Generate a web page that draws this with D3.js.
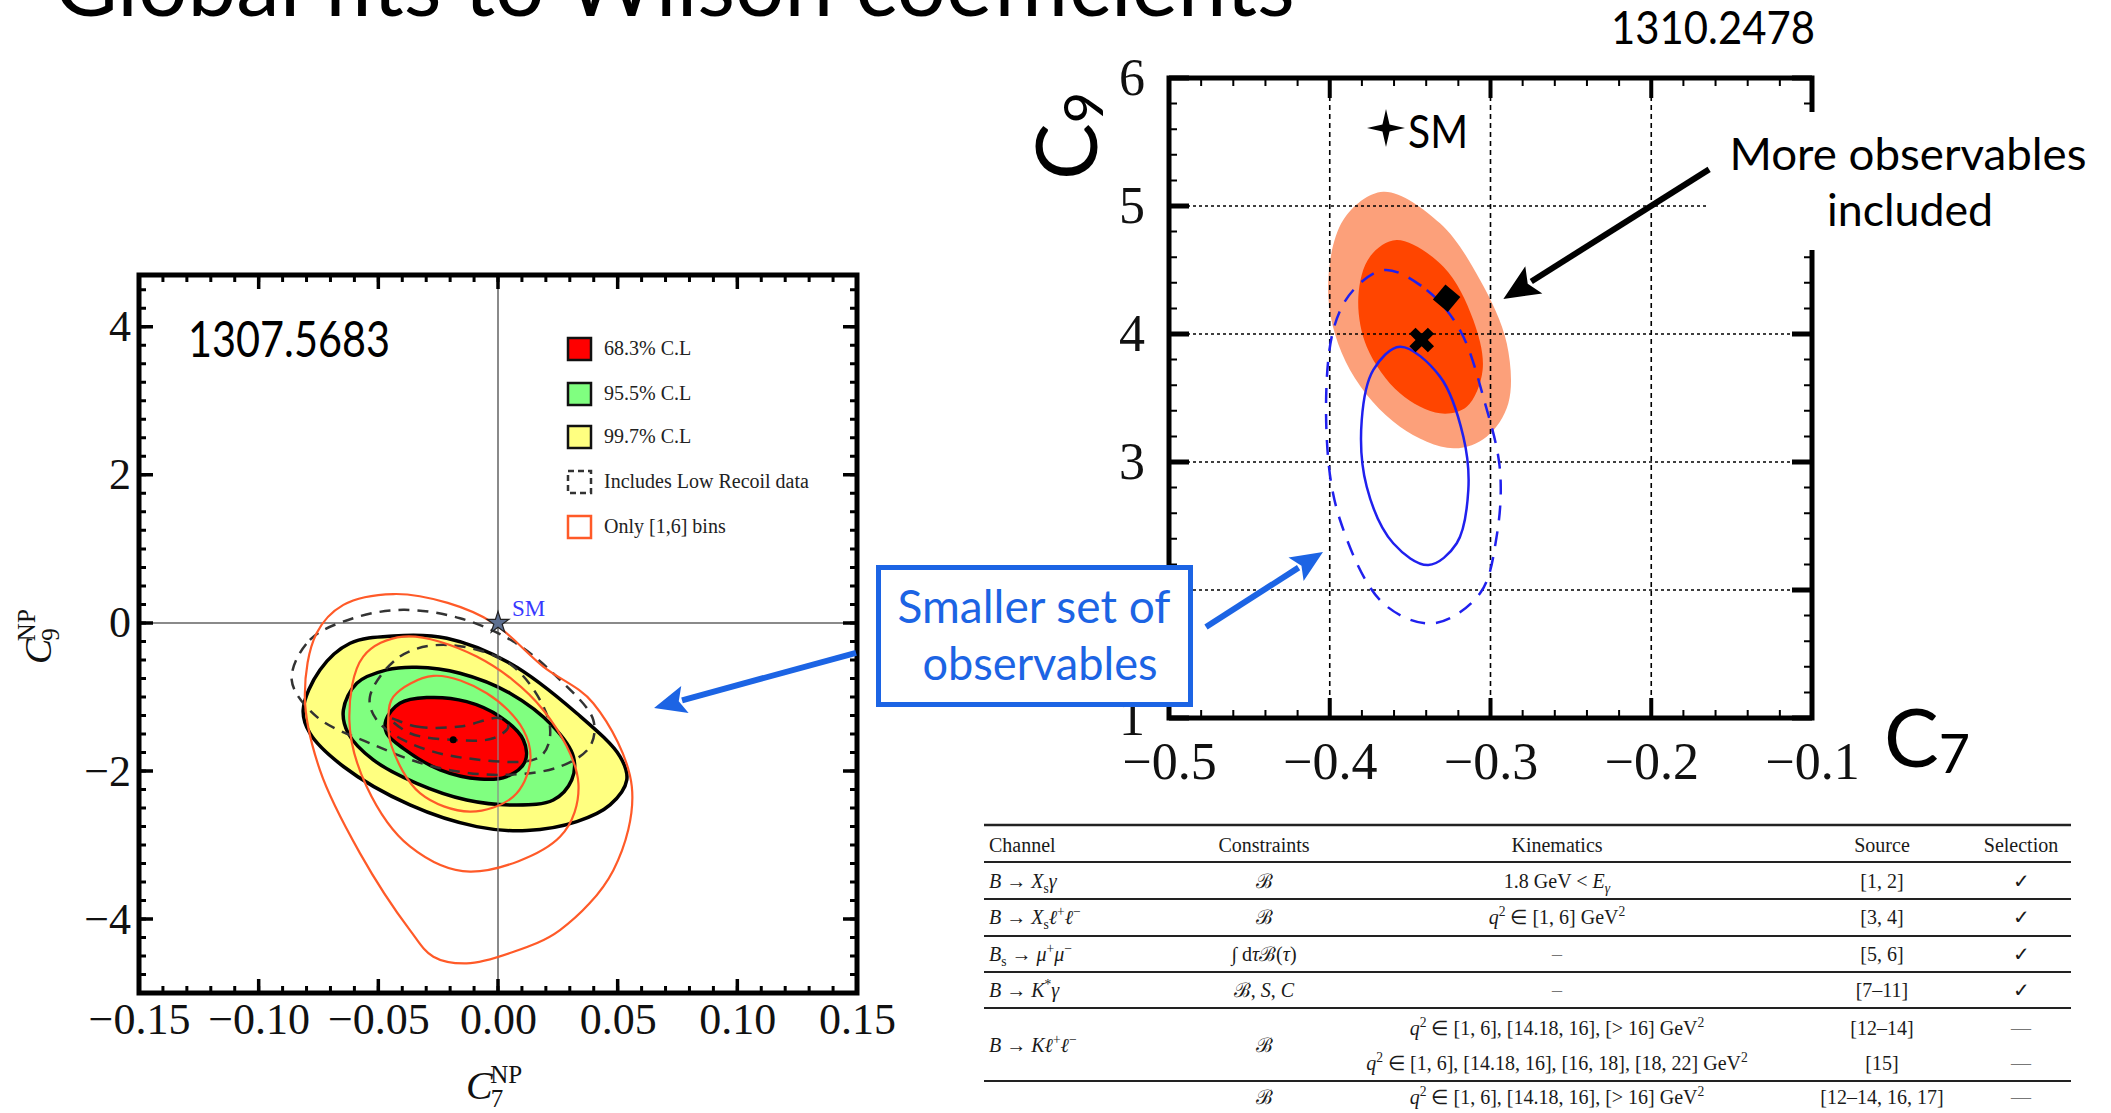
<!DOCTYPE html>
<html>
<head>
<meta charset="utf-8">
<title>Global fits to Wilson coefficients</title>
<script src="https://cdnjs.cloudflare.com/ajax/libs/d3/7.8.5/d3.min.js"></script>
<style>
  body { margin: 0; background: #fff; }
  svg { display: block; }
</style>
</head>
<body>
<svg id="slide" width="2111" height="1113"></svg>
<script>
'use strict';

// ---------- values ----------

// left plot (1307.5683): C7NP on x, C9NP on y
var leftXTicks = [-0.15, -0.10, -0.05, 0.00, 0.05, 0.10, 0.15];
var leftYTicks = [-4, -2, 0, 2, 4];
var leftLegend = ['68.3% C.L', '95.5% C.L', '99.7% C.L', 'Includes Low Recoil data', 'Only [1,6] bins'];
var leftSM = [0, 0];
var leftBestFit = [-0.0187, -1.58];

// filled contours (black border)
var cl997 = [[-0.0814,-1.176],[-0.0744,-0.635],[-0.0618,-0.275],[-0.0437,-0.176],[-0.0214,-0.207],[0.005,-0.545],
  [0.0329,-1.221],[0.051,-1.806],[0.0538,-2.122],[0.0468,-2.459],[0.0329,-2.685],[0.012,-2.806],[-0.0089,-2.752],
  [-0.0368,-2.459],[-0.0646,-1.94],[-0.0786,-1.49]];
var cl955 = [[-0.0646,-1.176],[-0.059,-0.815],[-0.0465,-0.635],[-0.034,-0.599],[-0.0159,-0.68],[0.005,-0.95],
  [0.0231,-1.401],[0.0315,-1.806],[0.0308,-2.122],[0.0231,-2.392],[0.0064,-2.459],[-0.0131,-2.392],[-0.034,-2.167],
  [-0.0521,-1.851],[-0.0626,-1.491]];
var cl683 = [[-0.0468,-1.311],[-0.041,-1.085],[-0.0298,-1.009],[-0.0131,-1.063],[0.0008,-1.266],[0.0106,-1.581],
  [0.0113,-1.874],[0.0036,-2.077],[-0.0075,-2.11],[-0.0242,-1.986],[-0.0396,-1.694],[-0.0465,-1.491]];
// low recoil (dashed)
var lowRecoil997 = [[-0.0862,-0.77],[-0.0786,-0.23],[-0.0605,0.063],[-0.0396,0.176],[-0.0159,0.063],[0.0064,-0.252],
  [0.0259,-0.77],[0.0398,-1.311],[0.0384,-1.671],[0.0259,-1.941],[0.0008,-2.054],[-0.027,-1.941],[-0.0535,-1.626],
  [-0.0758,-1.266]];
var lowRecoil955 = [[-0.0535,-0.996],[-0.041,-0.455],[-0.0214,-0.297],[0.0064,-0.59],[0.0217,-1.401],[0.0176,-1.806],
  [-0.0131,-1.829],[-0.0368,-1.626],[-0.0507,-1.311]];
var lowRecoil683 = [[-0.0451,-1.288],[-0.034,-1.401],[-0.0159,-1.401],[0.0008,-1.288],[0.0043,-1.401],[-0.002,-1.559],
  [-0.0187,-1.581],[-0.0368,-1.491]];
// only [1,6] bins (orange)
var bins997 = [[-0.0646,0.243],[-0.0437,0.39],[-0.021,0.27],[-0.002,0.0],[0.0189,-0.59],[0.0398,-1.085],[0.0559,-2.21],
  [0.0482,-3.34],[0.0259,-4.15],[0.005,-4.46],[-0.0131,-4.60],[-0.027,-4.51],[-0.0368,-4.15],[-0.0577,-3.11],
  [-0.0744,-1.99],[-0.0807,-0.996],[-0.0758,-0.14]];
var bins955 = [[-0.0396,-0.185],[-0.0089,-0.455],[0.0189,-1.176],[0.0336,-2.17],[0.0259,-2.89],[-0.0117,-3.36],
  [-0.0368,-3.02],[-0.0549,-2.21],[-0.0621,-1.31],[-0.0563,-0.455]];
var bins683 = [[-0.0437,-0.996],[-0.027,-0.716],[-0.0047,-0.95],[0.0106,-1.446],[0.0134,-1.896],[0.0064,-2.347],
  [-0.0117,-2.55],[-0.0326,-2.30],[-0.0444,-1.67],[-0.0458,-1.27]];

// right plot (1310.2478): C7 on x, C9 on y
var rightXTicks = [-0.5, -0.4, -0.3, -0.2, -0.1];
var rightYTicks = [1, 2, 3, 4, 5, 6];
var rightYLabels = [1, 3, 4, 5, 6];   // the "2" sits under the blue box
var right2sigma = [[-0.3667,5.112],[-0.3314,4.865],[-0.3065,4.422],[-0.2899,3.927],[-0.2889,3.459],[-0.3024,3.198],
  [-0.3231,3.107],[-0.3563,3.276],[-0.3874,3.719],[-0.4009,4.292],[-0.3916,4.891]];
var right1sigma = [[-0.3584,4.734],[-0.3293,4.526],[-0.3107,4.109],[-0.3049,3.719],[-0.3148,3.432],[-0.3314,3.38],
  [-0.3563,3.537],[-0.377,3.901],[-0.3822,4.292],[-0.375,4.604]];
var smallSet2sigma = [[-0.3656,4.5],[-0.3397,4.344],[-0.319,4.031],[-0.3034,3.459],[-0.2941,2.9375],[-0.2962,2.417],
  [-0.3065,1.974],[-0.3356,1.74],[-0.3667,1.896],[-0.3936,2.547],[-0.4019,3.198],[-0.3978,4.031],[-0.3853,4.344]];
var smallSet1sigma = [[-0.3563,3.901],[-0.3314,3.667],[-0.3169,3.198],[-0.3138,2.781],[-0.321,2.365],[-0.3387,2.195],
  [-0.3605,2.365],[-0.377,2.807],[-0.3801,3.328],[-0.3729,3.719]];
var rightBestFit = [-0.3273, 4.279];
var smallSetBestFit = [-0.3428, 3.953];

// table below the right plot
var tableHeads = ['Channel', 'Constraints', 'Kinematics', 'Source', 'Selection'];
var channels = ['$B$ → $X$_{s}$γ$', '$B$ → $X$_{s}$ℓ$^{+}$ℓ$^{−}', '$B$_{s} → $μ$^{+}$μ$^{−}', '$B$ → $K$^{*}$γ$',
  '$B$ → $Kℓ$^{+}$ℓ$^{−}', ''];
var constraints = ['ℬ', 'ℬ', '∫ d$τ$ℬ($τ$)', 'ℬ, $S$, $C$', 'ℬ', 'ℬ'];
var kinematics = [['1.8 GeV < $E$_{$γ$}'], ['$q$^{2} ∈ [1, 6] GeV^{2}'], ['–'], ['–'],
  ['$q$^{2} ∈ [1, 6], [14.18, 16], [> 16] GeV^{2}', '$q$^{2} ∈ [1, 6], [14.18, 16], [16, 18], [18, 22] GeV^{2}'],
  ['$q$^{2} ∈ [1, 6], [14.18, 16], [> 16] GeV^{2}']];
var sources = [['[1, 2]'], ['[3, 4]'], ['[5, 6]'], ['[7–11]'], ['[12–14]', '[15]'], ['[12–14, 16, 17]']];
var selections = [['✓'], ['✓'], ['✓'], ['✓'], ['—', '—'], ['—']];

// ---------- drawing ----------
var svg = d3.select('#slide');
var serif = '"Liberation Serif", "Times New Roman", serif';
var sans = 'Lato, "Open Sans", sans-serif';
var blue = '#1c64e4';

function fitWidth(t, w) {
  t.attr('textLength', w).attr('lengthAdjust', 'spacingAndGlyphs');
}

function closedLine(sx, sy) {
  return d3.line()
    .x(function(d) { return sx(d[0]); })
    .y(function(d) { return sy(d[1]); })
    .curve(d3.curveCatmullRomClosed.alpha(0.5));
}

function xTicks(g, sx, vals, yTop, yBot, len, w) {
  g.selectAll(null).data(vals).enter().append('path')
    .attr('d', function(v) {
      var X = sx(v);
      return 'M' + X + ',' + yBot + 'V' + (yBot - len) + 'M' + X + ',' + yTop + 'V' + (yTop + len);
    })
    .attr('stroke', '#000').attr('stroke-width', w);
}

function yTicks(g, sy, vals, xLeft, xRight, len, w) {
  g.selectAll(null).data(vals).enter().append('path')
    .attr('d', function(v) {
      var Y = sy(v);
      return 'M' + xLeft + ',' + Y + 'H' + (xLeft + len) + 'M' + xRight + ',' + Y + 'H' + (xRight - len);
    })
    .attr('stroke', '#000').attr('stroke-width', w);
}

function arrow(g, p0, p1, color, w, headLen, headW) {
  var dx = p1[0] - p0[0], dy = p1[1] - p0[1];
  var L = Math.sqrt(dx * dx + dy * dy), ux = dx / L, uy = dy / L;
  var bx = p1[0] - ux * headLen, by = p1[1] - uy * headLen;
  g.append('line')
    .attr('x1', p0[0]).attr('y1', p0[1]).attr('x2', bx + ux * 3).attr('y2', by + uy * 3)
    .attr('stroke', color).attr('stroke-width', w);
  g.append('path')
    .attr('d', 'M' + p1[0] + ',' + p1[1] +
      'L' + (bx - uy * headW / 2) + ',' + (by + ux * headW / 2) +
      'L' + (bx + ux * headLen * 0.2) + ',' + (by + uy * headLen * 0.2) +
      'L' + (bx + uy * headW / 2) + ',' + (by - ux * headW / 2) + 'Z')
    .attr('fill', color);
}

// math-ish text: $..$ toggles italics, _{..} subscript, ^{..} superscript
function richText(sel, str, fs) {
  var italic = false, shift = 0, buf = '', segs = [];
  function flush() { if (buf) { segs.push({t: buf, i: italic, s: shift}); buf = ''; } }
  for (var k = 0; k < str.length; k++) {
    var c = str[k];
    if (c === '$') { flush(); italic = !italic; }
    else if ((c === '_' || c === '^') && str[k + 1] === '{') { flush(); shift = c === '_' ? 1 : -1; k++; }
    else if (c === '}' && shift !== 0) { flush(); shift = 0; }
    else buf += c;
  }
  flush();
  var cur = 0;
  segs.forEach(function(s) {
    var off = s.s === 1 ? 0.25 : (s.s === -1 ? -0.4 : 0);
    sel.append('tspan')
      .attr('dy', ((off - cur) * fs) + 'px')
      .style('font-style', s.i ? 'italic' : 'normal')
      .style('font-size', (s.s ? fs * 0.68 : fs) + 'px')
      .text(s.t);
    cur = off;
  });
}

// title (only its lower part is on the slide)
var title = svg.append('text')
  .attr('x', 54).attr('y', 16)
  .style('font-family', sans).style('font-size', '80px')
  .text('Global fits to Wilson coefficients');
title.style('font-size', (80 * 1241 / title.node().getComputedTextLength()) + 'px');

// ===== left plot =====
var lx = d3.scaleLinear().domain([-0.15, 0.15]).range([139, 857]);
var ly = d3.scaleLinear().domain([-5, 4.7]).range([993, 275]);
var left = svg.append('g');
var lline = closedLine(lx, ly);

left.append('line').attr('x1', lx(0)).attr('x2', lx(0)).attr('y1', ly(4.7)).attr('y2', ly(-5))
  .attr('stroke', '#8a8a8a').attr('stroke-width', 2);
left.append('line').attr('x1', lx(-0.15)).attr('x2', lx(0.15)).attr('y1', ly(0)).attr('y2', ly(0))
  .attr('stroke', '#8a8a8a').attr('stroke-width', 2);

var fills = [[cl997, '#ffff80'], [cl955, '#80ff80'], [cl683, '#ff0000']];
fills.forEach(function(f) {
  left.append('path').attr('d', lline(f[0]))
    .attr('fill', f[1]).attr('stroke', '#000').attr('stroke-width', 3.5);
});
left.append('line').attr('x1', lx(0)).attr('x2', lx(0)).attr('y1', ly(-0.2)).attr('y2', ly(-3))
  .attr('stroke', '#8a8a8a').attr('stroke-width', 1.5).attr('opacity', 0.8);

[lowRecoil997, lowRecoil955, lowRecoil683].forEach(function(c) {
  left.append('path').attr('d', lline(c))
    .attr('fill', 'none').attr('stroke', '#333').attr('stroke-width', 2.5).attr('stroke-dasharray', '11,8');
});
[bins997, bins955, bins683].forEach(function(c) {
  left.append('path').attr('d', lline(c))
    .attr('fill', 'none').attr('stroke', '#ff5a28').attr('stroke-width', 2.2);
});

left.append('circle').attr('cx', lx(leftBestFit[0])).attr('cy', ly(leftBestFit[1])).attr('r', 3.5).attr('fill', '#000');
left.append('path')
  .attr('transform', 'translate(' + lx(leftSM[0]) + ',' + ly(leftSM[1]) + ')')
  .attr('d', d3.symbol(d3.symbolStar, 150)())
  .attr('fill', '#5d6f90').attr('stroke', '#222').attr('stroke-width', 1.2);
left.append('text').attr('x', lx(leftSM[0]) + 14).attr('y', ly(leftSM[1]) - 7)
  .style('font-family', serif).style('font-size', '23px').attr('fill', '#3838ff').text('SM');

// ticks
xTicks(left, lx, d3.range(-15, 16).map(function(i) { return i / 100; }), 275, 993, 7, 3);
xTicks(left, lx, leftXTicks, 275, 993, 14, 3.5);
yTicks(left, ly, d3.range(-20, 19).map(function(i) { return i / 4; }), 139, 857, 7, 3);
yTicks(left, ly, leftYTicks, 139, 857, 14, 3.5);
left.append('rect').attr('x', 139).attr('y', 275).attr('width', 718).attr('height', 718)
  .attr('fill', 'none').attr('stroke', '#000').attr('stroke-width', 5);

var lxAxis = left.append('g').attr('transform', 'translate(0,993)')
  .call(d3.axisBottom(lx).tickValues(leftXTicks).tickSize(0).tickPadding(10)
    .tickFormat(function(d) { return d3.format('.2f')(d).replace('-', '−'); }));
var lyAxis = left.append('g').attr('transform', 'translate(139,0)')
  .call(d3.axisLeft(ly).tickValues(leftYTicks).tickSize(0).tickPadding(8)
    .tickFormat(function(d) { return String(d).replace('-', '−'); }));
[lxAxis, lyAxis].forEach(function(a) {
  a.select('.domain').remove();
  a.selectAll('text').style('font-family', serif).style('font-size', '44px').attr('fill', '#111');
});

// axis titles
var lxt = left.append('text').attr('x', 466).attr('y', 1099).style('font-family', serif).attr('fill', '#111');
lxt.append('tspan').style('font-style', 'italic').style('font-size', '40px').text('C');
lxt.append('tspan').attr('dy', '8px').attr('dx', '-2px').style('font-size', '25px').text('7');
lxt.append('tspan').attr('dy', '-24px').attr('dx', '-13px').style('font-size', '25px').text('NP');
var lyt = left.append('text').attr('transform', 'translate(51,664) rotate(-90)').style('font-family', serif).attr('fill', '#111');
lyt.append('tspan').style('font-style', 'italic').style('font-size', '38px').text('C');
lyt.append('tspan').attr('dy', '8px').attr('dx', '-2px').style('font-size', '25px').text('9');
lyt.append('tspan').attr('dy', '-24px').attr('dx', '-13px').style('font-size', '25px').text('NP');

// legend
var legendStyle = [
  {fill: '#ff0000', stroke: '#111', dash: null},
  {fill: '#80ff80', stroke: '#111', dash: null},
  {fill: '#ffff80', stroke: '#111', dash: null},
  {fill: '#fff', stroke: '#333', dash: '6,4'},
  {fill: '#fff', stroke: '#ff5a28', dash: null}
];
var legendRows = [349, 394, 437, 482, 527];
var leg = left.selectAll('.leg').data(leftLegend).enter().append('g').attr('class', 'leg')
  .attr('transform', function(d, i) { return 'translate(567,' + legendRows[i] + ')'; });
leg.append('rect').attr('x', 1).attr('y', -11).attr('width', 23).attr('height', 22)
  .attr('fill', function(d, i) { return legendStyle[i].fill; })
  .attr('stroke', function(d, i) { return legendStyle[i].stroke; })
  .attr('stroke-width', 2.5)
  .attr('stroke-dasharray', function(d, i) { return legendStyle[i].dash; });
leg.append('text').attr('x', 37).attr('y', 6)
  .style('font-family', serif).style('font-size', '20px').attr('fill', '#222')
  .text(function(d) { return d; });

var lab1 = svg.append('text').attr('x', 188).attr('y', 357)
  .style('font-family', sans).style('font-size', '50px').text('1307.5683');
fitWidth(lab1, 202);

// ===== right plot =====
var rx = d3.scaleLinear().domain([-0.5, -0.1]).range([1169, 1812]);
var ry = d3.scaleLinear().domain([1, 6]).range([718, 78]);
var right = svg.append('g');
var rline = closedLine(rx, ry);

right.append('path').attr('d', rline(right2sigma)).attr('fill', '#fca07a');
right.append('path').attr('d', rline(right1sigma)).attr('fill', '#ff4500');

// grid
right.selectAll(null).data([-0.4, -0.3, -0.2]).enter().append('line')
  .attr('x1', function(d) { return rx(d); }).attr('x2', function(d) { return rx(d); })
  .attr('y1', 78).attr('y2', 718)
  .attr('stroke', '#000').attr('stroke-width', 1.6).attr('stroke-dasharray', '5,4');
right.selectAll(null).data([2, 3, 4, 5]).enter().append('line')
  .attr('y1', function(d) { return ry(d); }).attr('y2', function(d) { return ry(d); })
  .attr('x1', 1169).attr('x2', 1812)
  .attr('stroke', '#000').attr('stroke-width', 1.6).attr('stroke-dasharray', '3,3');

right.append('path').attr('d', rline(smallSet2sigma))
  .attr('fill', 'none').attr('stroke', '#2020ee').attr('stroke-width', 2.5).attr('stroke-dasharray', '15,11');
right.append('path').attr('d', rline(smallSet1sigma))
  .attr('fill', 'none').attr('stroke', '#2020ee').attr('stroke-width', 2.5);

right.append('path')
  .attr('transform', 'translate(' + rx(rightBestFit[0]) + ',' + ry(rightBestFit[1]) + ') rotate(40)')
  .attr('d', d3.symbol(d3.symbolSquare, 380)()).attr('fill', '#000');
right.append('path')
  .attr('transform', 'translate(' + rx(smallSetBestFit[0]) + ',' + ry(smallSetBestFit[1]) + ') rotate(45)')
  .attr('d', d3.symbol(d3.symbolCross, 380)()).attr('fill', '#000');

xTicks(right, rx, d3.range(-25, -4).map(function(i) { return i / 50; }), 78, 718, 8, 2);
xTicks(right, rx, [-0.4, -0.3, -0.2], 78, 718, 20, 4);
yTicks(right, ry, d3.range(5, 31).map(function(i) { return i / 5; }), 1169, 1812, 8, 2);
yTicks(right, ry, rightYTicks, 1169, 1812, 20, 5);
right.append('rect').attr('x', 1169).attr('y', 78).attr('width', 643).attr('height', 640)
  .attr('fill', 'none').attr('stroke', '#000').attr('stroke-width', 5);

var rxAxis = right.append('g').attr('transform', 'translate(0,718)')
  .call(d3.axisBottom(rx).tickValues(rightXTicks).tickSize(0).tickPadding(24)
    .tickFormat(function(d) { return d3.format('.1f')(d).replace('-', '−'); }));
var ryAxis = right.append('g').attr('transform', 'translate(1169,0)')
  .call(d3.axisLeft(ry).tickValues(rightYLabels).tickSize(0).tickPadding(24).tickFormat(d3.format('d')));
[rxAxis, ryAxis].forEach(function(a) {
  a.select('.domain').remove();
  a.selectAll('text').style('font-family', serif).style('font-size', '52px').attr('fill', '#111');
});

// SM key
var st = [1386, 128];
var starPts = d3.range(8).map(function(k) {
  var a = k * Math.PI / 4 - Math.PI / 2, r = k % 2 ? 5 : 19;
  return [st[0] + r * Math.cos(a), st[1] + r * Math.sin(a)];
});
right.append('path').attr('d', 'M' + starPts.join('L') + 'Z').attr('fill', '#000');
var smTxt = right.append('text').attr('x', 1408).attr('y', 148)
  .style('font-family', sans).style('font-size', '46px').text('SM');
fitWidth(smTxt, 60);

// axis titles
var rxt = svg.append('text').attr('x', 1884).attr('y', 767).style('font-family', sans);
rxt.append('tspan').style('font-size', '82px').text('C');
rxt.append('tspan').attr('dy', '6px').style('font-size', '54px').text('7');
var ryt = svg.append('text').attr('transform', 'translate(1097,180) rotate(-90)').style('font-family', sans);
ryt.append('tspan').style('font-size', '85px').text('C');
ryt.append('tspan').attr('dy', '6px').style('font-size', '54px').text('9');

var lab2 = svg.append('text').attr('x', 1611).attr('y', 44)
  .style('font-family', sans).style('font-size', '46px').text('1310.2478');
fitWidth(lab2, 204);

// ===== annotations =====
var ann = svg.append('g');
ann.append('rect').attr('x', 1709).attr('y', 112).attr('width', 402).attr('height', 138).attr('fill', '#fff');
var more1 = ann.append('text').attr('x', 1908).attr('y', 170).attr('text-anchor', 'middle')
  .style('font-family', sans).style('font-size', '45px').text('More observables');
fitWidth(more1, 357);
var more2 = ann.append('text').attr('x', 1910).attr('y', 226).attr('text-anchor', 'middle')
  .style('font-family', sans).style('font-size', '45px').text('included');
fitWidth(more2, 166);
arrow(ann, [rx(-0.164), ry(5.286)], [rx(-0.292), ry(4.273)], '#000', 6, 36, 32);

ann.append('rect').attr('x', 878.5).attr('y', 567.5).attr('width', 312).attr('height', 137)
  .attr('fill', '#fff').attr('stroke', blue).attr('stroke-width', 5);
var sm1 = ann.append('text').attr('x', 1034).attr('y', 623).attr('text-anchor', 'middle')
  .style('font-family', sans).style('font-size', '46px').attr('fill', blue).text('Smaller set of');
fitWidth(sm1, 273);
var sm2 = ann.append('text').attr('x', 1040).attr('y', 680).attr('text-anchor', 'middle')
  .style('font-family', sans).style('font-size', '46px').attr('fill', blue).text('observables');
fitWidth(sm2, 235);
arrow(ann, [rx(-0.477), ry(1.711)], [rx(-0.4042), ry(2.297)], blue, 6, 32, 28);
arrow(ann, [lx(0.1496), ly(-0.405)], [lx(0.0652), ly(-1.149)], blue, 6, 32, 28);

// ===== table =====
var tab = svg.append('g').style('font-family', serif).attr('fill', '#1a1a1a');
var tx = [989, 1264, 1557, 1882, 2021];
var rules = [[825, 2.5], [862, 2], [899, 2], [936, 2], [972, 2], [1008, 2], [1081, 2]];
rules.forEach(function(r) {
  tab.append('line').attr('x1', 984).attr('x2', 2071).attr('y1', r[0]).attr('y2', r[0])
    .attr('stroke', '#222').attr('stroke-width', r[1]);
});
tableHeads.forEach(function(h, i) {
  tab.append('text').attr('x', tx[i]).attr('y', 852)
    .attr('text-anchor', i === 0 ? 'start' : 'middle')
    .style('font-size', '20px').text(h);
});
var rowMid = [881, 917, 954, 990, 1045, 1097];
var subRows = [[881], [917], [954], [990], [1028, 1063], [1097]];
var fs = 20;
channels.forEach(function(c, i) {
  richText(tab.append('text').attr('x', tx[0]).attr('y', rowMid[i] + 7), c, fs);
  richText(tab.append('text').attr('x', tx[1]).attr('y', rowMid[i] + 7).attr('text-anchor', 'middle'), constraints[i], fs);
  [kinematics, sources, selections].forEach(function(col, j) {
    col[i].forEach(function(s, k) {
      var t = tab.append('text').attr('x', tx[j + 2]).attr('y', subRows[i][k] + 7).attr('text-anchor', 'middle');
      if (s === '–' || s === '—') t.attr('fill', '#777');
      richText(t, s, fs);
    });
  });
});
</script>
</body>
</html>
